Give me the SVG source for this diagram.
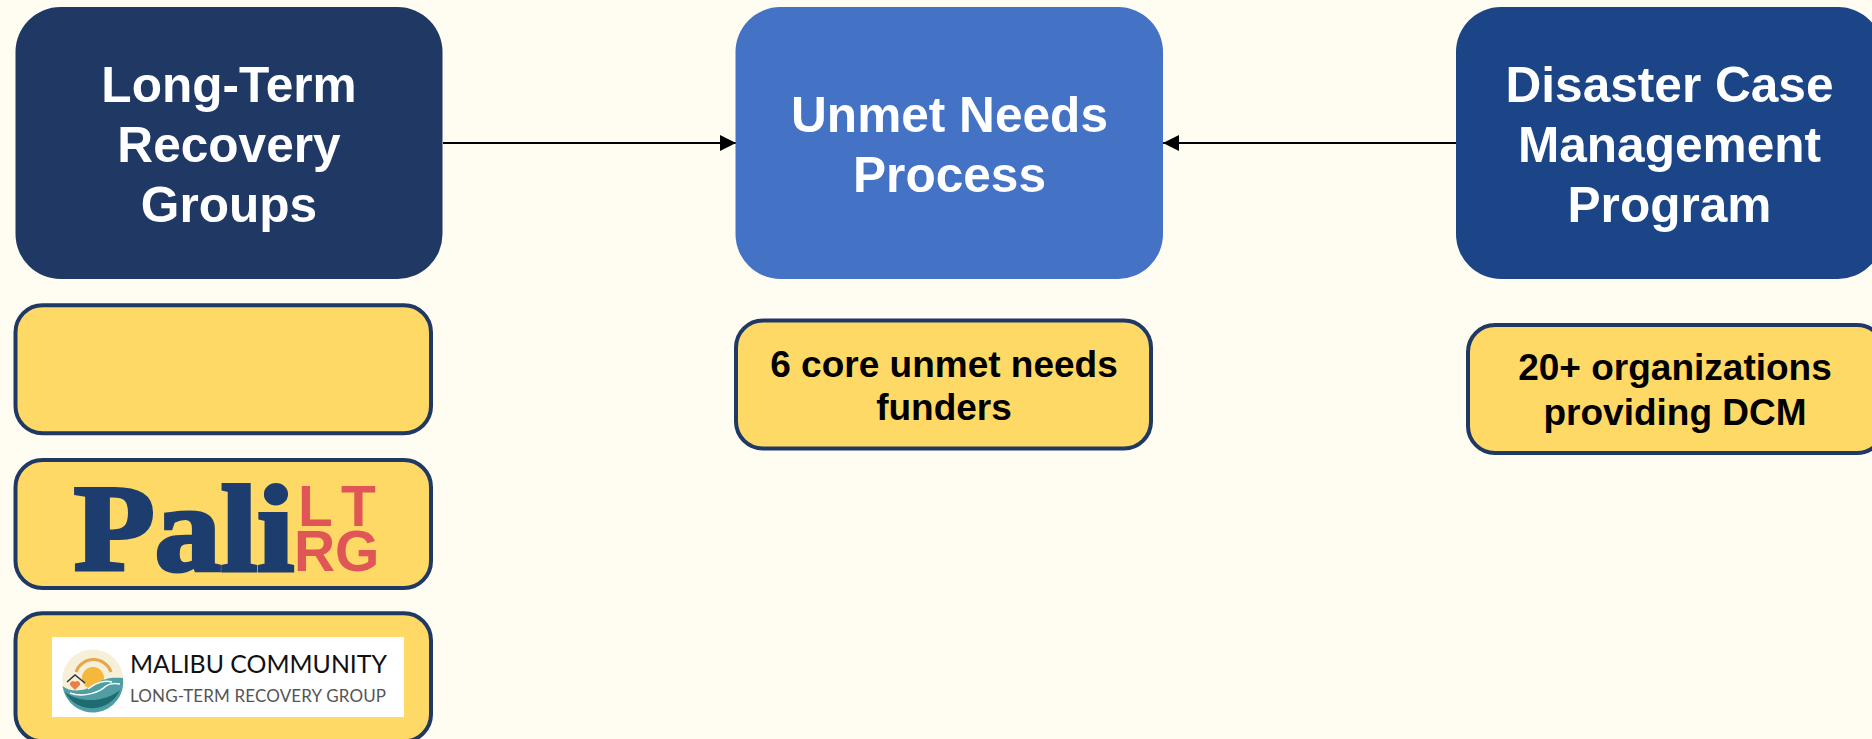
<svg xmlns="http://www.w3.org/2000/svg" width="1872" height="739" viewBox="0 0 1872 739">
<style>
.t{font-family:"Liberation Sans",Arial,sans-serif;font-weight:700;text-anchor:middle}
.h{font-size:49.6px;fill:#fff}
.s{font-size:37px;fill:#000}
.y{fill:#ffd966;stroke:#1f3864;stroke-width:4}
.c{stroke:#000;stroke-width:2;fill:none}
</style>
<defs>
<marker id="a" markerUnits="userSpaceOnUse" markerWidth="16" markerHeight="16" refX="16" refY="8" orient="auto"><path d="M0 0L16 8L0 16Z" fill="#000"/></marker>
</defs>
<rect width="1872" height="739" fill="#fffdf2"/>
<g id="connectors">
<line class="c" x1="443" y1="143" x2="736" y2="143" marker-end="url(#a)"/>
<line class="c" x1="1456" y1="143" x2="1163" y2="143" marker-end="url(#a)"/>
</g>
<g id="ltrg">
<rect x="15.5" y="7" width="427" height="272" rx="45" fill="#203864"/>
<text class="t h" x="229" y="102">Long-Term</text>
<text class="t h" x="229" y="162">Recovery</text>
<text class="t h" x="229" y="222">Groups</text>
</g>
<g id="unmet">
<rect x="735.5" y="7" width="427.5" height="272" rx="45" fill="#4472c4"/>
<text class="t h" x="949.5" y="132">Unmet Needs</text>
<text class="t h" x="949.5" y="192">Process</text>
</g>
<g id="dcm">
<rect x="1456" y="7" width="427" height="272" rx="45" fill="#1c4587"/>
<text class="t h" x="1669.5" y="102">Disaster Case</text>
<text class="t h" x="1669.5" y="162">Management</text>
<text class="t h" x="1669.5" y="222">Program</text>
</g>
<g id="funders">
<rect class="y" x="736" y="320.5" width="415" height="128" rx="27"/>
<text class="t s" x="944" y="377">6 core unmet needs</text>
<text class="t s" x="944" y="420">funders</text>
</g>
<g id="orgs">
<rect class="y" x="1468" y="325" width="416" height="128" rx="27"/>
<text class="t s" x="1675" y="380">20+ organizations</text>
<text class="t s" x="1675" y="425">providing DCM</text>
</g>
<g id="blank">
<rect class="y" x="15.5" y="305.3" width="415.5" height="128" rx="27"/>
</g>
<g id="pali">
<rect class="y" x="15.5" y="460" width="415.5" height="128" rx="27"/>
<text x="74" y="570" font-family="Liberation Serif,serif" font-weight="700" font-size="122" fill="#1c3d6e" stroke="#1c3d6e" stroke-width="4" textLength="220" lengthAdjust="spacingAndGlyphs">Pali</text>
<text font-family="Liberation Sans,sans-serif" font-weight="700" font-size="57" fill="#e05555"><tspan x="298 341" y="526">LT</tspan><tspan x="294 335" y="571">RG</tspan></text>
</g>
<g id="malibu">
<rect class="y" x="15.5" y="613.3" width="415.5" height="128" rx="27"/>
<rect x="52" y="637" width="352" height="80" fill="#fff"/>
<circle cx="92.7" cy="680" r="30.5" fill="#f6f0d8"/>
<path d="M76 672A18.500 18.500 0 0 1 111 672" fill="none" stroke="#e9a54a" stroke-width="3"/>
<circle cx="93" cy="678" r="11" fill="#f5b83d"/>
<path d="M62.500 686C72 694 88 690 96 684C104 678 112 677 123 678A30.500 30.500 0 0 1 62.500 686Z" fill="#4f9ea3"/>
<path d="M65 692C80 704 106 702 120 690A30.500 30.500 0 0 1 65 692Z" fill="#1f6b72"/>
<path d="M70 693C84 698 100 692 106 686C110 683 115 683 120 684M88 689C96 682 106 680 112 682" fill="none" stroke="#fff" stroke-width="1.500"/>
<path d="M67 682L75 675L85 683" fill="none" stroke="#333" stroke-width="1.500"/>
<path d="M75 690L70 685A3 3 0 0 1 75 682A3 3 0 0 1 80 685Z" fill="#e8804a"/>
<text x="130" y="673" font-family="Lato,sans-serif" font-size="25" fill="#111" textLength="257" lengthAdjust="spacingAndGlyphs">MALIBU COMMUNITY</text>
<text x="130" y="702" font-family="Lato,sans-serif" font-size="17" fill="#555" textLength="256" lengthAdjust="spacing">LONG-TERM RECOVERY GROUP</text>
</g>
</svg>
